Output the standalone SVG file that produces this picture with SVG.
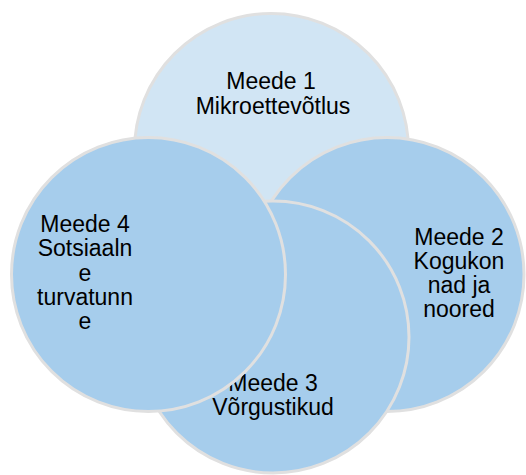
<svg xmlns="http://www.w3.org/2000/svg" width="526" height="475" viewBox="0 0 526 475">
<style>
.c{stroke:#E0E0E0;stroke-width:3}
.t{font-family:"Liberation Sans",Arial,sans-serif;font-size:23px;fill:#000;text-anchor:middle}
</style>
<rect width="526" height="475" fill="#FFFFFF"/>
<g id="node1">
<circle class="c" cx="271.5" cy="150.5" r="137" fill="#D1E5F4"/>
<text class="t" x="271" y="89">Meede 1</text>
<text class="t" x="273" y="114">Mikroettevõtlus</text>
</g>
<g id="node2">
<circle class="c" cx="387" cy="274.5" r="137" fill="#A6CDEC"/>
<text class="t" x="459" y="245">Meede 2</text>
<text class="t" x="459" y="269">Kogukon</text>
<text class="t" x="459" y="293">nad ja</text>
<text class="t" x="459" y="317">noored</text>
</g>
<g id="node3">
<circle class="c" cx="273" cy="337" r="136" fill="#A6CDEC"/>
<text class="t" x="273" y="391">Meede 3</text>
<text class="t" x="273" y="415">Võrgustikud</text>
</g>
<g id="node4">
<circle class="c" cx="148.5" cy="274.5" r="137" fill="#A6CDEC"/>
<text class="t" x="85" y="232">Meede 4</text>
<text class="t" x="85" y="256">Sotsiaaln</text>
<text class="t" x="85" y="281">e</text>
<text class="t" x="85" y="305">turvatunn</text>
<text class="t" x="85" y="329">e</text>
</g>
<g id="connectors"/>
</svg>
